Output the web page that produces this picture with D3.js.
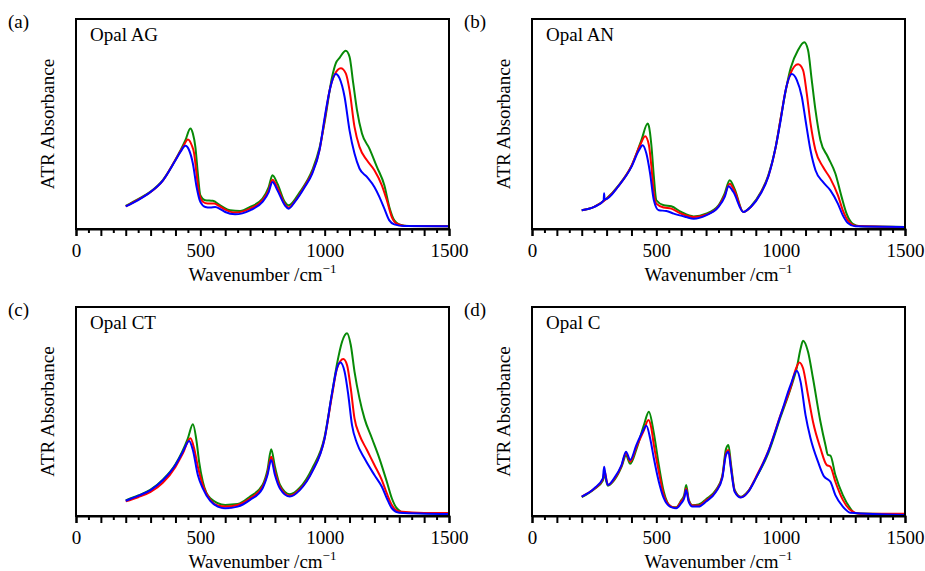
<!DOCTYPE html>
<html>
<head>
<meta charset="utf-8">
<script src="https://cdn.jsdelivr.net/npm/d3@7"></script>
<style>
  body { margin: 0; background: #fff; }
  svg text { font-family: "Liberation Serif", "DejaVu Serif", serif; }
</style>
</head>
<body>
<div id="chart"></div>
<script>

// Wavenumber axis
const xTicksMajor = [0, 100, 200, 300, 400, 500, 600, 700, 800, 900, 1000, 1100, 1200, 1300, 1400, 1500]
const xTicksMinor = d3.range(50, 1500, 100)
const xLabels = [0, 500, 1000, 1500]

// Panel titles
const panelTags = ["(a)", "(b)", "(c)", "(d)"]
const panelNames = ["Opal AG", "Opal AN", "Opal CT", "Opal C"]

// Opal AG  [wavenumber, absorbance]
const agGreen = [[200,0.11],[250,0.142],[300,0.178],[350,0.234],[400,0.33],[440,0.423],[460,0.479],[470,0.455],[480,0.391],[490,0.264],[500,0.161],[520,0.137],[550,0.134],[580,0.113],[620,0.089],[660,0.086],[700,0.105],[750,0.145],[775,0.2],[790,0.256],[810,0.216],[840,0.128],[855,0.113],[900,0.176],[950,0.28],[980,0.39],[1000,0.51],[1030,0.725],[1045,0.79],[1060,0.815],[1085,0.849],[1100,0.82],[1115,0.693],[1130,0.566],[1150,0.455],[1180,0.383],[1210,0.296],[1240,0.208],[1260,0.105],[1280,0.041],[1300,0.022],[1340,0.014],[1500,0.013]]
const agRed = [[200,0.108],[250,0.14],[300,0.176],[350,0.232],[400,0.33],[430,0.39],[450,0.426],[465,0.4],[475,0.36],[485,0.26],[495,0.17],[510,0.13],[530,0.121],[555,0.121],[575,0.11],[600,0.092],[640,0.078],[700,0.097],[750,0.137],[775,0.185],[790,0.235],[810,0.197],[840,0.118],[855,0.102],[880,0.132],[920,0.205],[950,0.27],[980,0.38],[1000,0.52],[1020,0.66],[1040,0.735],[1065,0.765],[1085,0.741],[1100,0.661],[1120,0.486],[1140,0.391],[1170,0.327],[1200,0.28],[1230,0.208],[1250,0.137],[1270,0.057],[1290,0.025],[1330,0.014],[1500,0.013]]
const agBlue = [[200,0.108],[250,0.138],[300,0.176],[350,0.232],[400,0.327],[420,0.367],[440,0.396],[455,0.375],[470,0.312],[485,0.2],[500,0.129],[520,0.105],[540,0.102],[560,0.105],[580,0.095],[600,0.081],[640,0.07],[700,0.089],[750,0.129],[775,0.176],[790,0.224],[810,0.184],[840,0.113],[855,0.097],[880,0.129],[920,0.2],[950,0.264],[980,0.38],[1000,0.53],[1020,0.66],[1045,0.738],[1060,0.717],[1080,0.63],[1100,0.47],[1120,0.359],[1140,0.288],[1170,0.248],[1200,0.2],[1220,0.153],[1240,0.097],[1260,0.041],[1280,0.022],[1320,0.014],[1500,0.013]]

// Opal AN
const anGreen = [[200,0.089],[250,0.105],[350,0.21],[400,0.3],[440,0.423],[465,0.502],[470,0.49],[480,0.4],[490,0.25],[500,0.137],[530,0.113],[560,0.108],[600,0.081],[650,0.06],[700,0.073],[750,0.113],[775,0.17],[795,0.232],[815,0.19],[850,0.081],[880,0.108],[920,0.175],[950,0.255],[980,0.39],[1000,0.526],[1040,0.765],[1070,0.852],[1095,0.889],[1110,0.852],[1125,0.709],[1140,0.566],[1160,0.423],[1190,0.343],[1220,0.264],[1245,0.153],[1265,0.073],[1290,0.025],[1320,0.013],[1500,0.01]]
const anRed = [[200,0.089],[250,0.105],[350,0.208],[400,0.3],[435,0.4],[455,0.442],[470,0.4],[480,0.3],[490,0.17],[500,0.121],[530,0.102],[560,0.097],[600,0.073],[650,0.057],[700,0.068],[750,0.108],[775,0.16],[795,0.216],[815,0.18],[850,0.081],[880,0.105],[920,0.172],[950,0.25],[980,0.39],[1000,0.526],[1020,0.66],[1040,0.741],[1070,0.784],[1090,0.757],[1105,0.645],[1120,0.504],[1140,0.375],[1170,0.296],[1200,0.24],[1230,0.161],[1250,0.089],[1270,0.041],[1300,0.016],[1500,0.01]]
const anBlue = [[200,0.089],[250,0.105],[288,0.135],[290,0.17],[292,0.14],[350,0.208],[400,0.296],[430,0.375],[445,0.399],[460,0.359],[475,0.264],[490,0.137],[510,0.089],[540,0.086],[570,0.073],[620,0.057],[650,0.049],[700,0.065],[750,0.105],[775,0.153],[790,0.203],[810,0.176],[850,0.081],[880,0.105],[920,0.169],[950,0.248],[980,0.391],[1000,0.518],[1020,0.661],[1045,0.738],[1065,0.709],[1085,0.63],[1100,0.518],[1120,0.375],[1140,0.28],[1170,0.224],[1200,0.184],[1230,0.121],[1250,0.065],[1270,0.029],[1300,0.013],[1500,0.01]]

// Opal CT
const ctGreen = [[200,0.075],[250,0.098],[300,0.126],[350,0.175],[400,0.248],[450,0.372],[470,0.439],[485,0.356],[495,0.26],[510,0.164],[540,0.085],[600,0.053],[650,0.057],[700,0.093],[750,0.148],[770,0.22],[785,0.319],[800,0.236],[820,0.15],[860,0.104],[900,0.135],[950,0.228],[1000,0.38],[1030,0.59],[1050,0.73],[1070,0.834],[1090,0.874],[1105,0.818],[1120,0.691],[1140,0.563],[1160,0.467],[1190,0.372],[1220,0.276],[1250,0.164],[1270,0.085],[1290,0.037],[1320,0.016],[1500,0.012]]
const ctRed = [[200,0.07],[250,0.09],[300,0.115],[350,0.16],[400,0.235],[430,0.3],[460,0.372],[475,0.324],[490,0.236],[510,0.148],[540,0.077],[570,0.05],[600,0.045],[650,0.053],[700,0.085],[750,0.14],[770,0.205],[785,0.284],[800,0.212],[820,0.14],[860,0.097],[900,0.128],[950,0.215],[1000,0.372],[1030,0.58],[1050,0.707],[1075,0.751],[1090,0.722],[1105,0.61],[1120,0.467],[1140,0.388],[1170,0.316],[1200,0.244],[1230,0.172],[1250,0.108],[1270,0.053],[1300,0.021],[1400,0.014],[1500,0.014]]
const ctBlue = [[200,0.073],[250,0.096],[300,0.124],[350,0.172],[400,0.244],[430,0.308],[455,0.359],[470,0.316],[490,0.196],[510,0.132],[540,0.072],[570,0.045],[600,0.037],[650,0.045],[700,0.077],[750,0.132],[770,0.196],[785,0.268],[800,0.196],[820,0.132],[860,0.093],[900,0.124],[950,0.212],[1000,0.372],[1030,0.59],[1050,0.71],[1063,0.734],[1080,0.691],[1095,0.579],[1110,0.435],[1130,0.348],[1160,0.276],[1200,0.196],[1230,0.14],[1250,0.085],[1270,0.037],[1300,0.016],[1500,0.01]]

// Opal C
const cGreen = [[200,0.09],[250,0.128],[285,0.17],[292,0.2],[300,0.16],[305,0.145],[330,0.17],[360,0.235],[378,0.29],[395,0.25],[420,0.32],[450,0.435],[470,0.499],[490,0.396],[510,0.244],[530,0.116],[560,0.045],[580,0.042],[600,0.075],[612,0.1],[620,0.148],[630,0.08],[645,0.052],[670,0.055],[700,0.08],[740,0.125],[765,0.19],[780,0.32],[790,0.34],[800,0.25],[815,0.125],[840,0.092],[870,0.12],[900,0.18],[950,0.3],[1000,0.475],[1040,0.61],[1065,0.71],[1080,0.8],[1090,0.839],[1110,0.786],[1130,0.659],[1160,0.451],[1180,0.34],[1190,0.292],[1200,0.289],[1220,0.196],[1250,0.1],[1280,0.037],[1300,0.013],[1500,0.008]]
const cRed = [[200,0.093],[250,0.13],[285,0.175],[292,0.215],[300,0.17],[305,0.148],[330,0.175],[360,0.24],[378,0.3],[395,0.26],[420,0.33],[450,0.41],[468,0.459],[480,0.42],[490,0.34],[510,0.212],[530,0.1],[560,0.045],[580,0.04],[600,0.07],[612,0.09],[620,0.132],[630,0.075],[645,0.05],[670,0.05],[700,0.075],[740,0.12],[765,0.185],[780,0.3],[790,0.316],[800,0.235],[815,0.12],[840,0.09],[870,0.118],[900,0.185],[950,0.31],[1000,0.485],[1040,0.615],[1060,0.7],[1075,0.735],[1090,0.707],[1110,0.579],[1130,0.451],[1160,0.324],[1185,0.244],[1200,0.236],[1220,0.164],[1250,0.077],[1280,0.029],[1320,0.011],[1500,0.011]]
const cBlue = [[200,0.093],[250,0.132],[285,0.18],[290,0.236],[295,0.2],[305,0.148],[330,0.18],[360,0.244],[378,0.308],[395,0.268],[420,0.34],[445,0.404],[460,0.432],[475,0.372],[490,0.276],[510,0.164],[530,0.085],[555,0.045],[580,0.037],[600,0.061],[612,0.085],[620,0.124],[630,0.069],[645,0.045],[670,0.045],[700,0.069],[740,0.116],[765,0.18],[780,0.292],[790,0.308],[800,0.228],[815,0.116],[840,0.088],[870,0.116],[900,0.18],[950,0.308],[1000,0.483],[1040,0.627],[1065,0.695],[1080,0.643],[1100,0.483],[1120,0.372],[1150,0.26],[1175,0.188],[1190,0.175],[1200,0.164],[1220,0.1],[1250,0.045],[1280,0.016],[1500,0.005]]

const seriesColors = ["#078a07", "#ff0000", "#0000ff"]
const panelData = [
    [agGreen, agRed, agBlue],
    [anGreen, anRed, anBlue],
    [ctGreen, ctRed, ctBlue],
    [cGreen, cRed, cBlue]
]

// Layout
const outerWidth = 925
const outerHeight = 571
const frameW = 373
const panelLeft = [76, 532]
const panelTop = [19, 307]
const frameH = [210, 209]

const svg = d3.select("#chart")
    .append("svg")
    .attr("width", outerWidth)
    .attr("height", outerHeight)

function drawPanel(i) {
    const col = i % 2
    const row = Math.floor(i / 2)
    const left = panelLeft[col]
    const top = panelTop[row]
    const h = frameH[row]

    const g = svg.append("g")
        .attr("transform", `translate(${left}, ${top})`)

    const x = d3.scaleLinear().domain([0, 1500]).range([0, frameW])
    const y = d3.scaleLinear().domain([0, 1]).range([h, 0])

    // Spectra, green first so blue ends up on top
    const line = d3.line()
        .x(d => x(d[0]))
        .y(d => y(d[1]))
        .curve(d3.curveMonotoneX)

    panelData[i].forEach((s, k) => {
        g.append("path")
            .datum(s)
            .attr("d", line)
            .attr("fill", "none")
            .attr("stroke", seriesColors[k])
            .attr("stroke-width", 2)
            .attr("stroke-linejoin", "round")
    })

    // Frame
    g.append("rect")
        .attr("x", 0)
        .attr("y", 0)
        .attr("width", frameW)
        .attr("height", h)
        .attr("fill", "none")
        .attr("stroke", "#000")
        .attr("stroke-width", 2)

    // Ticks: long every 100, short every 50
    const majorAxis = d3.axisBottom(x)
        .tickValues(xTicksMajor)
        .tickSize(7)
        .tickPadding(8)
        .tickFormat(d => xLabels.includes(d) ? d : "")
    const minorAxis = d3.axisBottom(x)
        .tickValues(xTicksMinor)
        .tickSize(4)
        .tickFormat("")

    const gx = g.append("g")
        .attr("transform", `translate(0, ${h})`)
        .call(majorAxis)
    g.append("g")
        .attr("transform", `translate(0, ${h})`)
        .call(minorAxis)
        .call(a => a.select(".domain").remove())

    g.selectAll(".tick line").attr("stroke-width", 2)
    gx.select(".domain").attr("stroke-width", 2)
    gx.selectAll(".tick text")
        .attr("font-size", 19)
        .attr("font-family", "Liberation Serif")
        .attr("fill", "#000")

    // Axis titles
    const xt = g.append("text")
        .attr("x", frameW / 2)
        .attr("y", h + 52)
        .attr("text-anchor", "middle")
        .attr("font-size", 19)
    xt.append("tspan").text("Wavenumber /cm")
    xt.append("tspan").text("\u22121")
        .attr("font-size", 13)
        .attr("dy", -8)

    g.append("text")
        .attr("transform", `translate(-22, ${h / 2}) rotate(-90)`)
        .attr("text-anchor", "middle")
        .attr("font-size", 19)
        .text("ATR Absorbance")

    // Panel tag and sample name
    g.append("text")
        .attr("x", -68)
        .attr("y", 9)
        .attr("font-size", 19)
        .text(panelTags[i])

    g.append("text")
        .attr("x", 14)
        .attr("y", 22)
        .attr("font-size", 19)
        .text(panelNames[i])
}

for (let i = 0; i < 4; i++) drawPanel(i)

</script>
</body>
</html>
